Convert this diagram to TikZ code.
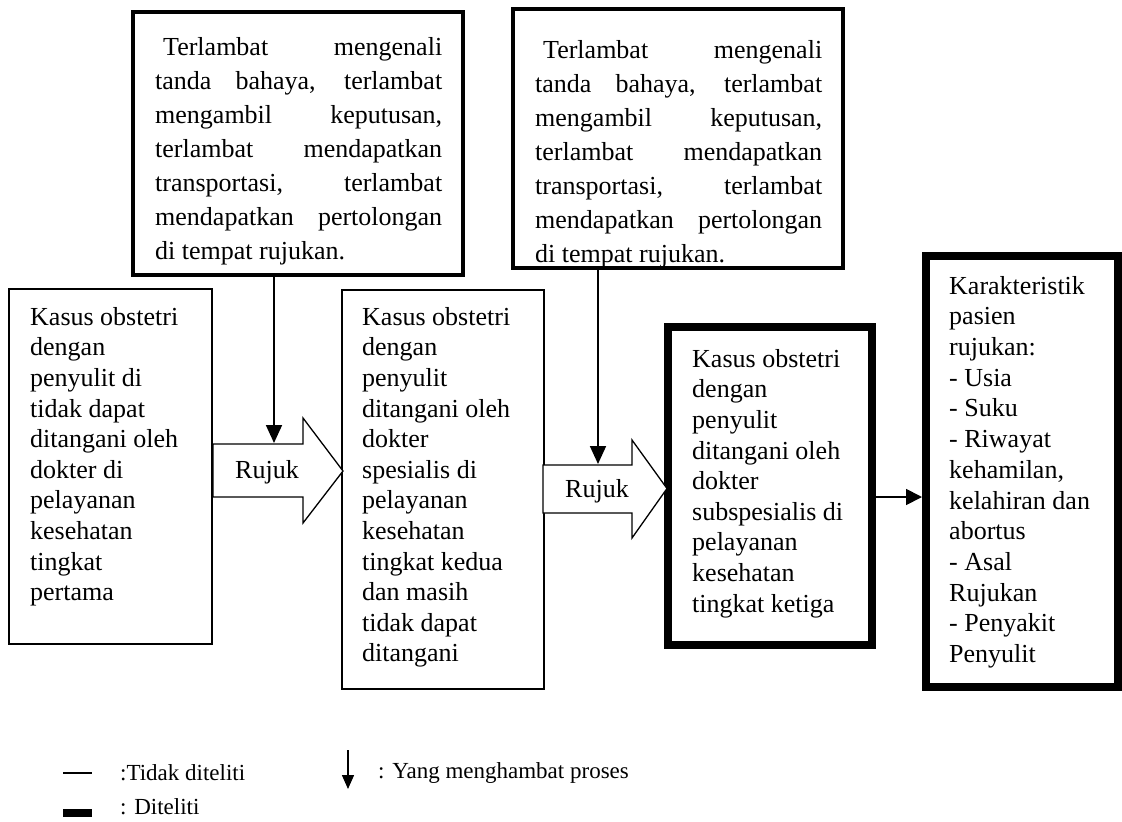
\documentclass[tikz,border=0pt]{standalone}
\usepackage{fontspec}
\setmainfont{Liberation Serif}
\usetikzlibrary{arrows.meta}
\begin{document}
\begin{tikzpicture}[x=1pt,y=-1pt,
  thinbox/.style={draw,line width=1.3pt,inner sep=0pt,outer sep=0pt,anchor=north west},
  delaybox/.style={draw,line width=4.8pt,inner sep=0pt,outer sep=0pt,anchor=north west},
  heavybox/.style={draw,line width=7.5pt,inner sep=0pt,outer sep=0pt,anchor=north west},
  sidetext/.style={anchor=north west,inner sep=0pt,align=left,
    font=\fontsize{26}{30.6}\selectfont},
  toptext/.style={anchor=north west,inner sep=0pt,text width=287pt,align=justify,
    font=\fontsize{26}{34}\selectfont},
  legtext/.style={anchor=west,inner sep=0pt,font=\fontsize{23}{27}\selectfont},
  blockarrow/.style={draw,line width=1.3pt,fill=white},
  hinder/.style={line width=1.8pt,-{Triangle[width=16pt,length=18pt]}},
  flow/.style={line width=1.8pt,-{Triangle[width=16pt,length=16pt]}}
]
\useasboundingbox (0,0) rectangle (1122,822);

% top delay boxes
\node[delaybox,minimum width=330pt,minimum height=263pt] (d1) at (133,12) {};
\node[toptext] (d1t) at (155,31.8) {\strut\hspace*{8pt}Terlambat mengenali\linebreak tanda bahaya, terlambat\linebreak mengambil keputusan,\linebreak terlambat mendapatkan\linebreak transportasi, terlambat\linebreak mendapatkan pertolongan\linebreak di tempat rujukan.};

\node[delaybox,minimum width=330pt,minimum height=259pt] (d2) at (513,9) {};
\node[toptext] (d2t) at (535,34) {\strut\hspace*{8pt}Terlambat mengenali\linebreak tanda bahaya, terlambat\linebreak mengambil keputusan,\linebreak terlambat mendapatkan\linebreak transportasi, terlambat\linebreak mendapatkan pertolongan\linebreak di tempat rujukan.};

% level 1 box
\node[thinbox,minimum width=203pt,minimum height=355pt] (b1) at (9,289) {};
\node[sidetext] (b1t) at (30,303.6) {\strut Kasus obstetri\\dengan\\penyulit di\\tidak dapat\\ditangani oleh\\dokter di\\pelayanan\\kesehatan\\tingkat\\pertama};

% level 2 box
\node[thinbox,minimum width=202pt,minimum height=399pt] (b2) at (342,290) {};
\node[sidetext] (b2t) at (362,303.6) {\strut Kasus obstetri\\dengan\\penyulit\\ditangani oleh\\dokter\\spesialis di\\pelayanan\\kesehatan\\tingkat kedua\\dan masih\\tidak dapat\\ditangani};

% level 3 box
\node[heavybox,minimum width=204pt,minimum height=318pt] (b3) at (668,327) {};
\node[sidetext] (b3t) at (692,345.6) {\strut Kasus obstetri\\dengan\\penyulit\\ditangani oleh\\dokter\\subspesialis di\\pelayanan\\kesehatan\\tingkat ketiga};

% characteristics box
\node[heavybox,minimum width=192pt,minimum height=431pt] (b4) at (926,256) {};
\node[sidetext,font=\fontsize{26}{30.7}\selectfont] (b4t) at (949,272.5) {\strut Karakteristik\\pasien\\rujukan:\\- Usia\\- Suku\\- Riwayat\\kehamilan,\\kelahiran dan\\abortus\\- Asal\\Rujukan\\- Penyakit\\Penyulit};

% block arrows "Rujuk"
\draw[blockarrow] (213,444) -- (303,444) -- (303,418) -- (343,471) -- (303,523) -- (303,497) -- (213,497) -- cycle;
\node[font=\fontsize{26}{30}\selectfont,inner sep=0pt] (r1) at (267,472) {Rujuk};
\draw[blockarrow] (543,465) -- (632,465) -- (632,440) -- (667,488.5) -- (632,538) -- (632,513) -- (543,513) -- cycle;
\node[font=\fontsize{26}{30}\selectfont,inner sep=0pt] (r2) at (597,491) {Rujuk};

% hindering arrows
\coordinate (h1) at (274,443);
\coordinate (h2) at (598,464);
\draw[hinder] (d1.south -| h1) ++(0,2.4) -- (h1);
\draw[hinder] (d2.south -| h2) ++(0,2.4) -- (h2);

% flow to characteristics
\coordinate (f1) at (922,497);
\draw[flow] (b3.east |- f1) ++(3.75,0) -- (f1);

% legend
\coordinate (lt1) at (63,773);
\coordinate (lt2) at (92,773);
\draw[line width=1.8pt] (lt1) -- (lt2);
\node[legtext] (l1) at (120,773) {:Tidak diteliti};
\fill (63,809) rectangle (92,817);
\node[legtext] (l2) at (120,807) {: Diteliti};
\coordinate (la1) at (348,750);
\coordinate (la2) at (348,789);
\draw[line width=1.5pt,-{Triangle[width=12pt,length=14pt]}] (la1) -- (la2);
\node[legtext] (l3) at (378,773) {: Yang menghambat proses};
\end{tikzpicture}
\end{document}
